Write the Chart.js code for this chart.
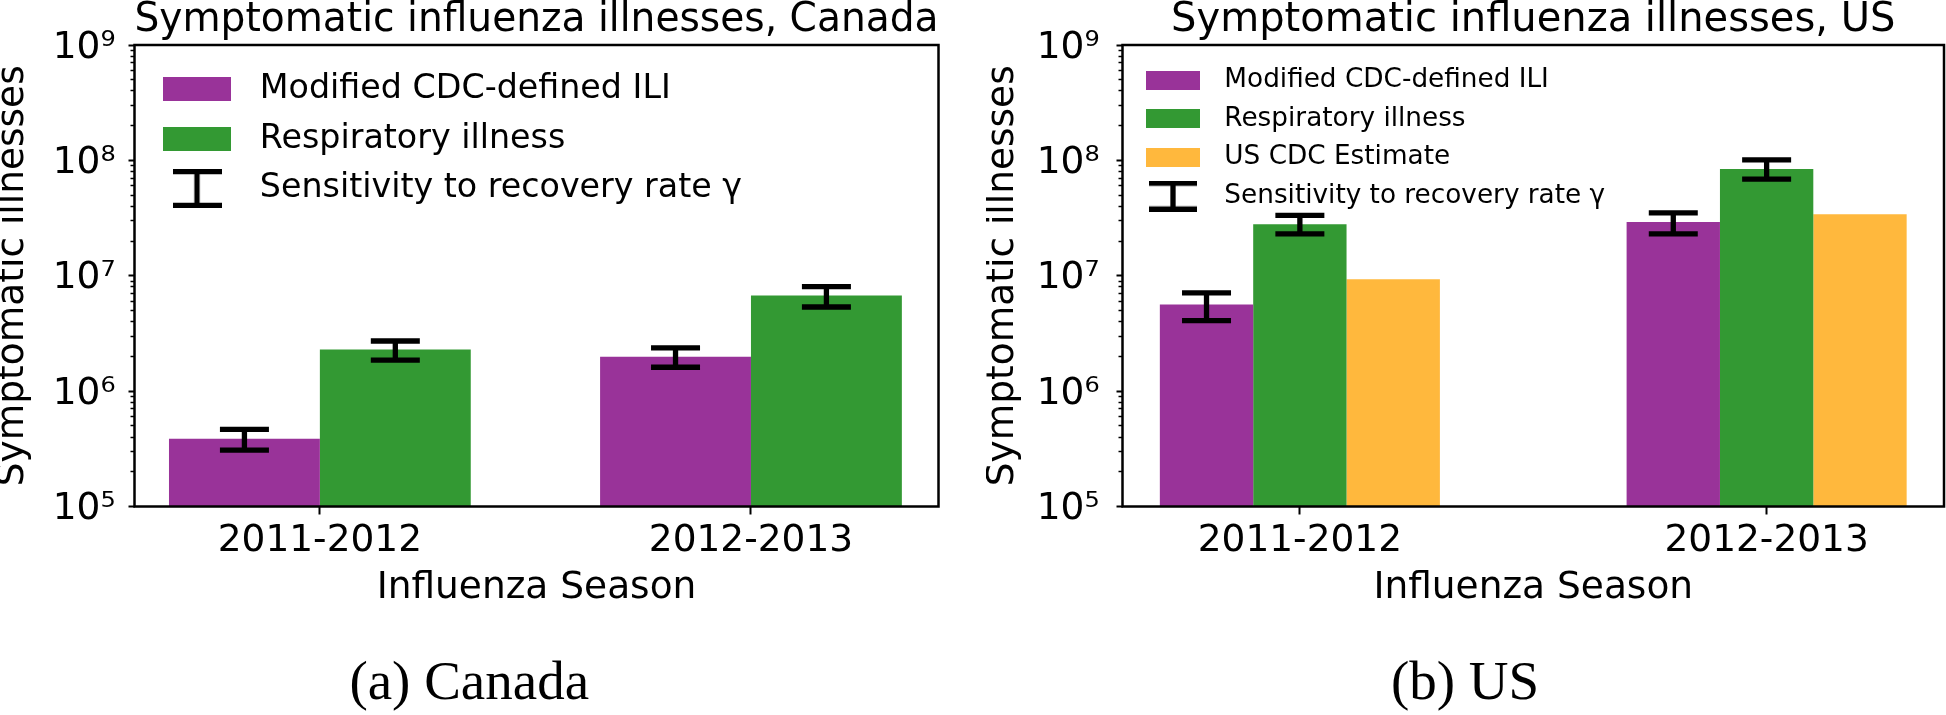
<!DOCTYPE html>
<html>
<head>
<meta charset="utf-8">
<script src="https://cdn.jsdelivr.net/npm/chart.js@4.4.1/dist/chart.umd.min.js"></script>
<style>
    body { margin: 0; background: #fff; width: 1946px; height: 715px; overflow: hidden; position: relative; }
    .panel { position: absolute; top: 0; width: 960px; height: 715px; }
    #panelCanada { left: 0; }
    #panelUS { left: 986px; }
</style>
</head>
<body>
<div class="panel" id="panelCanada"><canvas id="graficoCanada"></canvas></div>
<div class="panel" id="panelUS"><canvas id="graficoUS"></canvas></div>
<script>
const seasons = ['2011-2012', '2012-2013'];
const yMajorTicks = [1e5, 1e6, 1e7, 1e8, 1e9];
const yMinorSteps = [2, 3, 4, 5, 6, 7, 8, 9];

// Canada
const canadaIli = [3.86e5, 1.99e6];
const canadaIliLow = [3.08e5, 1.61e6];
const canadaIliHigh = [4.66e5, 2.37e6];
const canadaResp = [2.29e6, 6.73e6];
const canadaRespLow = [1.86e6, 5.36e6];
const canadaRespHigh = [2.72e6, 8.05e6];

// US
const usIli = [5.62e6, 2.93e7];
const usIliLow = [4.08e6, 2.31e7];
const usIliHigh = [7.10e6, 3.51e7];
const usResp = [2.80e7, 8.40e7];
const usRespLow = [2.31e7, 6.87e7];
const usRespHigh = [3.33e7, 1.01e8];
const usCdc = [9.33e6, 3.42e7];

const purple = '#993399';
const green = '#339933';
const orange = '#ffb83d';
const sans = 'DejaVu Sans';
const sup = { '5': '\u2075', '6': '\u2076', '7': '\u2077', '8': '\u2078', '9': '\u2079' };

function powLabel(v) {
    return '10' + sup[String(Math.round(Math.log10(v)))];
}

function minorTicks() {
    const out = [];
    for (let i = 0; i < yMajorTicks.length - 1; i++) {
        yMinorSteps.forEach(s => out.push({ value: s * yMajorTicks[i] }));
    }
    return out;
}

function boxImage(w, h, color) {
    const c = document.createElement('canvas');
    c.width = w; c.height = h;
    const g = c.getContext('2d');
    g.fillStyle = color;
    g.fillRect(0, 0, w, h);
    return c;
}

function capImage(w, h, lw) {
    const c = document.createElement('canvas');
    c.width = w; c.height = h;
    const g = c.getContext('2d');
    g.strokeStyle = '#000';
    g.lineWidth = lw;
    g.beginPath();
    g.moveTo(0, lw / 2); g.lineTo(w, lw / 2);
    g.moveTo(0, h - lw / 2); g.lineTo(w, h - lw / 2);
    g.moveTo(w / 2, 0); g.lineTo(w / 2, h);
    g.stroke();
    return c;
}

const errorBars = {
    id: 'errorBars',
    afterDatasetsDraw(chart, args, opts) {
        const ctx = chart.ctx;
        const yScale = chart.scales.y;
        const half = opts.capSize / 2;
        ctx.save();
        ctx.strokeStyle = '#000';
        ctx.lineWidth = opts.lineWidth;
        chart.data.datasets.forEach((ds, di) => {
            if (!ds.errLow) return;
            chart.getDatasetMeta(di).data.forEach((bar, i) => {
                const y0 = yScale.getPixelForValue(ds.errLow[i]);
                const y1 = yScale.getPixelForValue(ds.errHigh[i]);
                ctx.beginPath();
                ctx.moveTo(bar.x, y0); ctx.lineTo(bar.x, y1);
                ctx.moveTo(bar.x - half, y0); ctx.lineTo(bar.x + half, y0);
                ctx.moveTo(bar.x - half, y1); ctx.lineTo(bar.x + half, y1);
                ctx.stroke();
            });
        });
        // plot frame
        const a = chart.chartArea;
        ctx.lineWidth = 2.5;
        ctx.strokeRect(a.left, a.top, a.right - a.left, a.bottom - a.top);
        ctx.restore();
    }
};

// keep the legend pinned inside the plot area
const pinLegend = {
    id: 'pinLegend',
    afterLayout(chart) {
        const lg = chart.legend;
        const a = chart.chartArea;
        lg.left = a.left; lg.top = a.top; lg.right = a.right; lg.bottom = a.bottom;
    }
};

function createBarChart(ctx, cfg) {
    const datasets = cfg.series.map(s => ({
        label: s.label,
        data: s.values.map((v, i) => ({ x: i, y: v })),
        errLow: s.low,
        errHigh: s.high,
        backgroundColor: s.color,
        borderWidth: 0,
        categoryPercentage: cfg.groupWidth,
        barPercentage: 1
    }));

    const lg = cfg.legend;
    const legendItems = cfg.series.map(s => ({
        text: s.label,
        pointStyle: boxImage(lg.boxW, lg.boxH, s.color),
        fillStyle: s.color,
        strokeStyle: 'rgba(0,0,0,0)',
        fontColor: '#000',
        lineWidth: 0,
        hidden: false
    }));
    legendItems.push({
        text: 'Sensitivity to recovery rate \u03b3',
        pointStyle: capImage(lg.capW, lg.capH, 5.3),
        fillStyle: 'rgba(0,0,0,0)',
        strokeStyle: 'rgba(0,0,0,0)',
        fontColor: '#000',
        lineWidth: 0,
        hidden: false
    });

    return new Chart(ctx, {
        type: 'bar',
        data: { datasets: datasets },
        options: {
            responsive: true,
            maintainAspectRatio: false,
            animation: false,
            events: [],
            layout: { padding: { left: 0, right: cfg.padRight, top: 0, bottom: 0 } },
            scales: {
                x: {
                    type: 'linear',
                    min: cfg.xMin,
                    max: cfg.xMax,
                    offset: false,
                    afterBuildTicks: ax => { ax.ticks = seasons.map((s, i) => ({ value: i })); },
                    afterFit: ax => { ax.height = 150.8; },
                    ticks: {
                        callback: v => seasons[v],
                        font: { family: sans, size: 37.5 },
                        color: '#000',
                        padding: 4.3,
                        autoSkip: false,
                        maxRotation: 0
                    },
                    grid: { offset: false, drawOnChartArea: false, tickLength: 8, tickWidth: 2, tickColor: '#000' },
                    border: { display: false },
                    title: {
                        display: true,
                        text: 'Influenza Season',
                        color: '#000',
                        font: { family: sans, size: 37.5 },
                        padding: { top: 0, bottom: 46.3 }
                    }
                },
                y: {
                    type: 'logarithmic',
                    position: 'left',
                    weight: 1,
                    min: 1e5,
                    max: 1e9,
                    beginAtZero: false,
                    afterBuildTicks: ax => { ax.ticks = yMajorTicks.map(v => ({ value: v })); },
                    afterFit: ax => { ax.width = cfg.yWidth; },
                    ticks: {
                        callback: v => powLabel(v),
                        font: { family: sans, size: 37.5 },
                        color: '#000',
                        padding: cfg.yLabelPad,
                        labelOffset: 3,
                        autoSkip: false
                    },
                    grid: { drawOnChartArea: false, tickLength: 6, tickWidth: 2, tickColor: '#000' },
                    border: { display: false },
                    title: {
                        display: true,
                        text: 'Symptomatic illnesses',
                        color: '#000',
                        font: { family: sans, size: 37.5, lineHeight: 0.6 },
                        padding: { top: cfg.yTitlePad, bottom: 0 }
                    }
                },
                yMinor: {
                    type: 'logarithmic',
                    position: 'left',
                    weight: 0,
                    min: 1e5,
                    max: 1e9,
                    afterBuildTicks: ax => { ax.ticks = minorTicks(); },
                    afterFit: ax => { ax.width = 0; },
                    ticks: { display: false },
                    grid: { drawOnChartArea: false, tickLength: 4, tickWidth: 1.5, tickColor: '#000' },
                    border: { display: false }
                }
            },
            plugins: {
                title: {
                    display: true,
                    text: cfg.title,
                    color: '#000',
                    fullSize: false,
                    font: { family: sans, size: 40, weight: 'normal', lineHeight: 1.05 },
                    padding: { top: 0, bottom: 3 }
                },
                subtitle: {
                    display: true,
                    text: cfg.caption,
                    position: 'bottom',
                    color: '#000',
                    fullSize: true,
                    font: { family: 'Liberation Serif', size: 55, lineHeight: 1 },
                    padding: { top: 0, bottom: 2.7 }
                },
                legend: {
                    position: 'chartArea',
                    align: 'start',
                    title: { display: true, text: '', font: { size: lg.spacer, lineHeight: 1 }, padding: 0 },
                    labels: {
                        usePointStyle: true,
                        pointStyleWidth: lg.slotW,
                        boxHeight: lg.font,
                        padding: lg.pad,
                        color: '#000',
                        font: { family: sans, size: lg.font },
                        generateLabels: () => legendItems
                    }
                },
                tooltip: { enabled: false },
                errorBars: { lineWidth: 5.3, capSize: 49 }
            }
        },
        plugins: [errorBars, pinLegend]
    });
}

createBarChart(document.getElementById('graficoCanada').getContext('2d'), {
    title: 'Symptomatic influenza illnesses, Canada',
    caption: '(a) Canada',
    xMin: -0.43, xMax: 1.435,
    groupWidth: 0.7,
    yWidth: 134.5, padRight: 21.5,
    yLabelPad: 13, yTitlePad: 1.75,
    legend: { font: 33.3, pad: 16.3, spacer: 11.35, slotW: 92.4, boxW: 68, boxH: 24, capW: 49, capH: 39 },
    series: [
        { label: 'Modified CDC-defined ILI', values: canadaIli, low: canadaIliLow, high: canadaIliHigh, color: purple },
        { label: 'Respiratory illness', values: canadaResp, low: canadaRespLow, high: canadaRespHigh, color: green }
    ]
});

createBarChart(document.getElementById('graficoUS').getContext('2d'), {
    title: 'Symptomatic influenza illnesses, US',
    caption: '(b) US',
    xMin: -0.38, xMax: 1.38,
    groupWidth: 0.6,
    yWidth: 136.5, padRight: 2,
    yLabelPad: 17, yTitlePad: 5.75,
    legend: { font: 26.3, pad: 12.3, spacer: 9.85, slotW: 76.4, boxW: 54, boxH: 19, capW: 48, capH: 31 },
    series: [
        { label: 'Modified CDC-defined ILI', values: usIli, low: usIliLow, high: usIliHigh, color: purple },
        { label: 'Respiratory illness', values: usResp, low: usRespLow, high: usRespHigh, color: green },
        { label: 'US CDC Estimate', values: usCdc, color: orange }
    ]
});
</script>
</body>
</html>
